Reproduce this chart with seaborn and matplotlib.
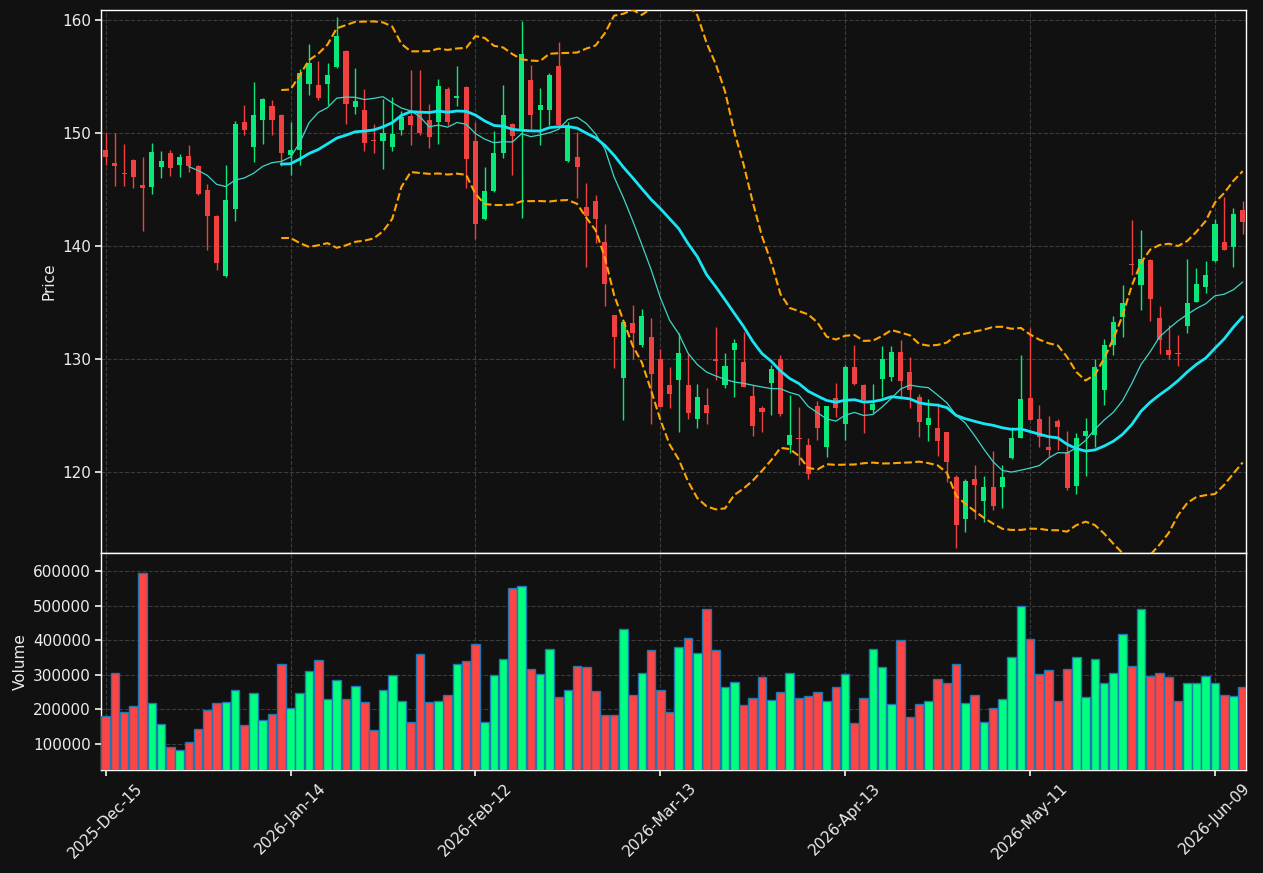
import numpy as np
import pandas as pd
import seaborn as sns
import matplotlib
matplotlib.use("Agg")
import matplotlib.pyplot as plt

# 資料 (從圖上讀出的估計值)
opens = [148.55, 147.41, 146.43, 147.66, 145.39, 145.23, 146.98, 148.27, 147.17, 148.03,
         147.14, 145.02, 142.72, 137.38, 143.27, 151.00, 148.76, 151.22, 152.45, 151.65,
         148.06, 148.55, 154.38, 154.29, 154.41, 155.83, 157.30, 152.29, 152.08, 149.44,
         149.29, 148.76, 150.27, 151.56, 151.77, 151.16, 150.97, 153.92, 153.09, 154.14,
         149.32, 142.41, 144.87, 148.24, 150.85, 150.24, 154.72, 152.08, 152.08, 155.98,
         147.54, 147.94, 143.48, 144.01, 140.41, 133.88, 128.35, 133.17, 131.27, 131.94,
         130.01, 127.74, 128.17, 127.71, 124.73, 125.96, 129.98, 127.74, 130.84, 129.73,
         126.72, 125.65, 127.92, 130.01, 122.39, 123.04, 122.39, 125.86, 122.27, 126.57,
         124.30, 129.30, 127.74, 125.53, 128.29, 128.44, 130.62, 128.84, 126.66, 124.21,
         123.87, 123.53, 119.54, 115.82, 119.39, 117.42, 118.71, 118.71, 121.23, 123.01,
         126.57, 124.70, 122.24, 124.50, 121.78, 118.77, 123.22, 123.32, 127.31, 131.27,
         133.75, 138.42, 136.58, 138.76, 133.69, 130.81, 130.56, 132.96, 135.10, 136.39,
         138.70, 140.41, 139.92, 143.18]
highs = [150.00, 150.00, 149.07, 147.70, 147.90, 149.16, 148.43, 148.55, 148.18, 148.98,
         147.20, 145.48, 142.80, 147.20, 151.07, 152.54, 154.54, 153.15, 152.94, 151.70,
         151.00, 155.67, 157.91, 156.38, 156.22, 160.28, 157.35, 155.76, 153.92, 150.85,
         153.00, 153.22, 151.99, 155.61, 155.61, 152.60, 154.78, 154.14, 155.98, 154.20,
         151.00, 147.01, 150.21, 154.29, 150.90, 159.91, 156.01, 153.98, 155.30, 158.07,
         151.00, 150.08, 145.63, 144.56, 142.01, 133.90, 133.35, 134.80, 134.49, 133.69,
         130.90, 129.27, 132.28, 130.44, 127.77, 127.49, 132.83, 130.59, 131.82, 132.43,
         127.68, 125.83, 129.52, 130.35, 126.85, 125.74, 123.01, 126.29, 125.90, 127.86,
         129.52, 131.30, 127.80, 127.77, 131.20, 131.20, 131.73, 130.22, 126.94, 126.45,
         126.14, 123.55, 119.79, 119.39, 120.61, 119.63, 121.84, 120.61, 123.99, 130.35,
         132.74, 125.99, 124.97, 124.70, 123.68, 123.44, 124.76, 129.98, 131.82, 133.81,
         136.58, 142.35, 141.43, 138.90, 134.74, 133.05, 132.19, 138.88, 138.05, 138.73,
         142.41, 144.37, 143.42, 144.01]
lows = [147.23, 145.33, 145.33, 145.17, 141.34, 144.65, 146.03, 146.19, 146.12, 146.55,
        144.50, 139.71, 137.87, 137.30, 142.26, 149.84, 147.47, 149.04, 149.84, 147.11,
        146.34, 147.20, 153.40, 152.91, 152.48, 155.80, 150.79, 151.68, 148.40, 148.30,
        146.86, 148.40, 149.84, 149.01, 149.84, 148.70, 149.04, 150.70, 152.42, 145.17,
        140.63, 142.35, 144.80, 147.78, 146.34, 142.50, 150.39, 148.98, 150.70, 150.70,
        147.50, 144.25, 138.17, 140.32, 134.74, 129.21, 124.60, 129.98, 131.11, 124.24,
        125.75, 125.65, 123.53, 124.67, 123.90, 124.30, 128.20, 127.43, 126.66, 127.50,
        123.19, 123.53, 125.03, 124.97, 121.69, 120.61, 119.39, 122.82, 121.32, 124.88,
        122.82, 127.70, 123.44, 125.22, 126.66, 128.04, 126.66, 125.68, 123.10, 122.76,
        121.44, 119.14, 113.31, 114.72, 115.82, 115.61, 116.62, 116.84, 121.20, 123.00,
        124.60, 122.21, 121.38, 122.00, 118.40, 118.07, 119.63, 122.21, 125.92, 130.35,
        131.97, 137.50, 134.37, 133.35, 130.44, 130.04, 129.36, 132.28, 135.05, 135.90,
        138.65, 139.65, 138.17, 141.12]
closes = [147.94, 147.08, 146.37, 146.09, 145.14, 148.37, 147.51, 146.89, 147.94, 147.14,
          144.62, 142.66, 138.51, 144.10, 150.85, 150.27, 151.65, 153.06, 151.16, 148.24,
          148.55, 155.30, 156.22, 153.15, 155.18, 158.62, 152.63, 152.85, 149.16, 149.29,
          150.05, 149.96, 151.47, 150.70, 149.99, 149.65, 154.20, 151.00, 153.28, 147.69,
          141.95, 144.93, 148.27, 151.65, 149.72, 156.99, 151.59, 152.54, 155.18, 150.76,
          150.61, 146.98, 142.66, 142.41, 136.67, 131.97, 133.32, 132.34, 133.81, 128.69,
          125.80, 126.94, 130.53, 125.28, 126.66, 125.28, 129.85, 129.39, 131.42, 127.55,
          124.11, 125.34, 129.12, 125.16, 123.32, 122.98, 119.82, 123.87, 125.86, 125.68,
          129.30, 127.83, 126.39, 126.05, 130.01, 130.62, 128.10, 127.28, 124.48, 124.76,
          122.76, 120.92, 115.36, 119.23, 118.83, 118.68, 116.99, 119.54, 123.04, 126.45,
          124.60, 123.16, 121.99, 124.00, 118.62, 123.07, 123.62, 129.30, 131.30, 133.32,
          134.95, 138.33, 138.88, 135.35, 131.67, 130.38, 130.47, 134.95, 136.64, 137.50,
          142.01, 139.71, 142.90, 142.16]
volumes = [180000, 307000, 192000, 209000, 594000, 220000, 157000, 92000, 82000, 105000,
           142000, 197000, 218000, 221000, 255000, 154000, 247000, 168000, 186000, 331000,
           203000, 247000, 310000, 342000, 229000, 284000, 229000, 267000, 221000, 140000,
           255000, 299000, 224000, 163000, 360000, 221000, 224000, 241000, 331000, 339000,
           391000, 163000, 299000, 345000, 551000, 557000, 316000, 302000, 374000, 235000,
           255000, 325000, 322000, 252000, 183000, 183000, 432000, 241000, 307000, 371000,
           255000, 192000, 380000, 406000, 363000, 490000, 371000, 264000, 279000, 212000,
           232000, 293000, 226000, 250000, 307000, 232000, 238000, 250000, 224000, 264000,
           302000, 160000, 232000, 374000, 322000, 215000, 400000, 178000, 215000, 224000,
           287000, 276000, 331000, 218000, 241000, 163000, 203000, 229000, 351000, 501000,
           403000, 302000, 313000, 224000, 316000, 351000, 235000, 345000, 276000, 307000,
           420000, 325000, 490000, 296000, 307000, 293000, 224000, 276000, 276000, 296000,
           276000, 241000, 238000, 264000]
tick_labels = ["2025-Dec-15", "2026-Jan-14", "2026-Feb-12", "2026-Mar-13",
               "2026-Apr-13", "2026-May-11", "2026-Jun-09"]

df = pd.DataFrame({"Open": opens, "High": highs, "Low": lows,
                   "Close": closes, "Volume": volumes})
df["idx"] = np.arange(len(df))
df["dir"] = np.where(df["Close"] >= df["Open"], "up", "down")
df["ma10"] = df["Close"].rolling(10).mean()
df["ma20"] = df["Close"].rolling(20).mean()
std20 = df["Close"].rolling(20).std(ddof=0)
df["bb_up"] = df["ma20"] + 2 * std20
df["bb_lo"] = df["ma20"] - 2 * std20

bg = "#111111"
fg = "#ececec"
sns.set_theme(style="darkgrid", rc={
    "figure.facecolor": bg, "axes.facecolor": bg, "axes.edgecolor": "white",
    "axes.labelcolor": fg, "xtick.color": fg, "ytick.color": fg, "text.color": fg,
    "grid.color": "#3c3c3c", "grid.linestyle": "--", "grid.linewidth": 0.8,
    "axes.linewidth": 1.0, "xtick.bottom": True, "ytick.left": True,
    "xtick.major.size": 4, "ytick.major.size": 4,
    "axes.labelsize": 11, "xtick.labelsize": 11, "ytick.labelsize": 11,
})
plt.rcParams["font.family"] = ["DejaVu Sans"]

fig = plt.figure(figsize=(12.63, 8.73), dpi=100)
ax_p = fig.add_axes([0.0802, 0.3666, 0.9063, 0.6217])
ax_v = fig.add_axes([0.0802, 0.1180, 0.9063, 0.2486], sharex=ax_p)

up_c, dn_c = "#0ae87c", "#f04040"
cols = np.where(df["dir"] == "up", up_c, dn_c)

# K線
ax_p.vlines(df["idx"], df["Low"], df["High"], colors=cols, linewidth=1.0, zorder=3)
body_lo = np.minimum(df["Open"], df["Close"])
body_h = np.maximum(np.abs(df["Close"] - df["Open"]), 0.08)
ax_p.bar(df["idx"], body_h, bottom=body_lo, width=0.55, color=cols, linewidth=0, zorder=4)

# 均線 / 布林通道
sns.lineplot(data=df, x="idx", y="ma10", ax=ax_p, color="#3fd6c6", linewidth=0.9, zorder=5)
sns.lineplot(data=df, x="idx", y="ma20", ax=ax_p, color="#19e6f5", linewidth=2.0, zorder=5)
sns.lineplot(data=df, x="idx", y="bb_up", ax=ax_p, color="#ffa500", linewidth=1.5,
             linestyle="--", zorder=5)
sns.lineplot(data=df, x="idx", y="bb_lo", ax=ax_p, color="#ffa500", linewidth=1.5,
             linestyle="--", zorder=5)

# 成交量
sns.barplot(data=df, x="idx", y="Volume", hue="dir", ax=ax_v, native_scale=True,
            palette={"up": "#00ff7f", "down": "#ff4444"}, saturation=1, dodge=False,
            width=0.93, edgecolor="#1f77b4", linewidth=1.0, errorbar=None,
            legend=False, zorder=3)

ax_p.set_ylim(112.85, 160.9)
ax_p.set_ylabel("Price")
ax_p.set_xlabel("")
ax_p.tick_params(axis="x", which="both", bottom=False, labelbottom=False)
ax_p.grid(True)

ax_v.set_ylim(df["Volume"].min() * 0.3, df["Volume"].max() * 1.1)
ax_v.set_xlim(-0.47, 123.35)
ax_v.set_xticks(np.arange(0, len(df), 20))
ax_v.set_xticklabels(tick_labels, rotation=45)
ax_v.ticklabel_format(axis="y", style="plain")
ax_v.set_ylabel("Volume")
ax_v.set_xlabel("")
ax_v.grid(True)

for a in (ax_p, ax_v):
    for s in a.spines.values():
        s.set_color("white")
        s.set_linewidth(1.0)

plt.savefig("out.png", dpi=100, facecolor=bg)
plt.close()
